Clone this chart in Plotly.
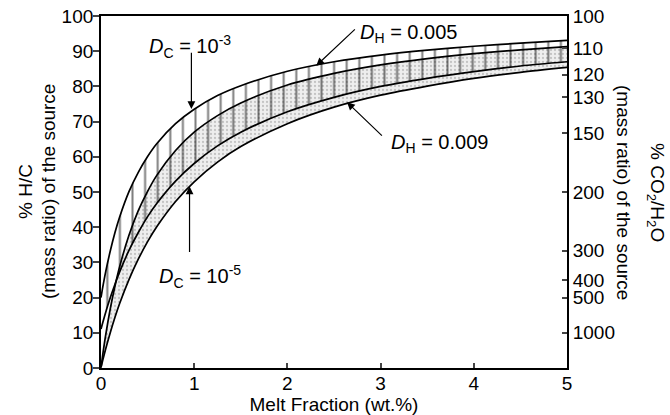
import plotly.graph_objects as go

# Melt fraction (wt.%)
melt = [0, 0.02, 0.05, 0.1, 0.15, 0.2, 0.3, 0.4, 0.5, 0.6, 0.8, 1.0, 1.25, 1.5, 2.0, 2.5, 3.0, 3.5, 4.0, 4.5, 5.0]
# % H/C of the source
hc_dc3_dh005 = [20.0, 23.1, 27.3, 33.3, 38.5, 42.9, 50.1, 55.6, 60.1, 63.8, 69.4, 73.5, 77.4, 80.2, 84.3, 87.0, 88.9, 90.3, 91.4, 92.3, 93.1]
hc_dc5_dh005 = [0.2, 4.0, 9.3, 16.9, 23.3, 28.8, 37.7, 44.7, 50.2, 54.8, 61.8, 67.0, 71.7, 75.3, 80.4, 83.7, 86.1, 87.9, 89.3, 90.4, 91.3]
hc_dc3_dh009 = [11.1, 13.0, 15.8, 20.0, 23.8, 27.3, 33.4, 38.5, 43.0, 46.8, 53.1, 58.1, 63.1, 67.0, 72.8, 76.9, 80.0, 82.3, 84.2, 85.8, 87.0]
hc_dc5_dh009 = [0.1, 2.3, 5.4, 10.1, 14.4, 18.3, 25.1, 30.9, 35.9, 40.2, 47.3, 52.9, 58.5, 62.9, 69.4, 74.1, 77.5, 80.1, 82.3, 84.0, 85.4]

x_ticks = [0, 1, 2, 3, 4, 5]
y_ticks = [0, 10, 20, 30, 40, 50, 60, 70, 80, 90, 100]
co2_labels = [100, 110, 120, 130, 150, 200, 300, 400, 500, 1000]

FONT = "Liberation Sans, Arial, sans-serif"
fig = go.Figure()

line = dict(color="black", width=1.7, shape="spline", smoothing=0.8)

# D_C = 1e-5 band (dotted)
fig.add_trace(go.Scatter(x=melt, y=hc_dc5_dh009, mode="lines", line=line, showlegend=False))
fig.add_trace(go.Scatter(x=melt, y=hc_dc5_dh005, mode="lines", line=line, showlegend=False,
                         fill="tonexty", fillcolor="rgba(0,0,0,0)",
                         fillpattern=dict(shape=".", size=4, solidity=0.25, fgcolor="#999999",
                                          bgcolor="#eeeeee", fillmode="overlay")))
# D_C = 1e-3 band (vertical hatching)
fig.add_trace(go.Scatter(x=melt, y=hc_dc3_dh009, mode="lines", line=line, showlegend=False))
fig.add_trace(go.Scatter(x=melt, y=hc_dc3_dh005, mode="lines", line=line, showlegend=False,
                         fill="tonexty", fillcolor="rgba(0,0,0,0)",
                         fillpattern=dict(shape="|", size=12.6, solidity=0.16, fgcolor="black",
                                          bgcolor="rgba(0,0,0,0)", fillmode="overlay")))
# invisible trace for right axis
fig.add_trace(go.Scatter(x=[0], y=[0], yaxis="y2", mode="markers", marker=dict(opacity=0),
                         showlegend=False, hoverinfo="skip"))

annos = []
def txt(x, y, s, **kw):
    annos.append(dict(x=x, y=y, xref="x", yref="y", text=s, showarrow=False,
                      font=dict(family=FONT, size=20, color="black"), **kw))
def arrow(x, y, ax, ay):
    annos.append(dict(x=x, y=y, ax=ax, ay=ay, xref="x", yref="y", axref="x", ayref="y",
                      text="", showarrow=True, arrowhead=2, arrowsize=1.3, arrowwidth=1.2,
                      arrowcolor="black"))

txt(0.95, 91.2, "<i>D</i><sub>C</sub> = 10<sup>-3</sup>")
arrow(0.97, 73.6, 0.97, 90.0)
txt(1.06, 26.0, "<i>D</i><sub>C</sub> = 10<sup>-5</sup>")
arrow(0.95, 51.6, 0.95, 32.5)
txt(3.30, 95.0, "<i>D</i><sub>H</sub> = 0.005")
arrow(2.31, 85.9, 2.74, 96.6)
txt(3.63, 63.8, "<i>D</i><sub>H</sub> = 0.009")
arrow(2.64, 75.5, 3.03, 65.6)

def side_title(xp, shift, s, angle):
    annos.append(dict(x=xp, y=0.5, xref="paper", yref="paper", xanchor="center", yanchor="middle",
                      xshift=shift, text=s, textangle=angle, showarrow=False,
                      font=dict(family=FONT, size=19, color="black")))

side_title(0.0, -76, "% H/C", -90)
side_title(0.0, -53, "(mass ratio) of the source", -90)
side_title(1.0, 57, "(mass ratio) of the source", 90)
side_title(1.0, 89, "% CO<sub>2</sub>/H<sub>2</sub>O", 90)

fig.update_layout(
    width=670, height=415,
    margin=dict(l=101, r=103, t=16, b=47, autoexpand=False),
    paper_bgcolor="white", plot_bgcolor="white",
    font=dict(family=FONT, size=19, color="black"),
    annotations=annos,
    xaxis=dict(range=[0, 5], tickvals=x_ticks, ticks="inside", ticklen=5, tickwidth=1.5,
               showline=True, linewidth=1.8, linecolor="black", mirror=True,
               showgrid=False, zeroline=False, automargin=False, ticklabelstandoff=-3,
               title=dict(text="Melt Fraction (wt.%)", standoff=0, font=dict(size=19))),
    yaxis=dict(range=[0, 100], tickvals=y_ticks, ticks="outside", ticklen=6, tickwidth=1.5,
               showline=True, linewidth=1.8, linecolor="black", showgrid=False, zeroline=False,
               automargin=False, ticklabelstandoff=-4),
    yaxis2=dict(range=[0, 100], overlaying="y", side="right",
                tickvals=[10000 / v for v in co2_labels], ticktext=[str(v) for v in co2_labels],
                ticks="inside", ticklen=5, tickwidth=1.5, showline=True, linewidth=1.8,
                linecolor="black", showgrid=False, zeroline=False, automargin=False),
)

# remove the browser's default 8px page margin so the figure sits at the window origin
fig.write_html("out.html", config={"displayModeBar": False},
               post_script="document.body.style.margin='0';")
